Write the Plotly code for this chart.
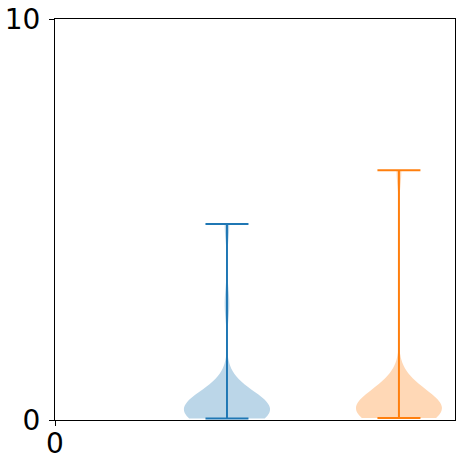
import numpy as np
import plotly.graph_objects as go

# sample values
positions = [1, 2]
blue_vals = [0.04, 0.06, 0.08, 0.1, 0.12, 0.14, 0.16, 0.18, 0.2, 0.22, 0.24, 0.26,
             0.29, 0.32, 0.35, 0.39, 0.44, 0.5, 0.58, 0.7, 0.85, 2.9, 4.89]
orange_vals = [0.05, 0.07, 0.09, 0.11, 0.13, 0.15, 0.17, 0.19, 0.21, 0.24, 0.27,
               0.3, 0.33, 0.37, 0.41, 0.46, 0.52, 0.6, 0.7, 0.82, 0.95, 6.23]
bandwidths = [0.4, 0.4]
colors = ["#1f77b4", "#ff7f0e"]
fills = ["rgba(31,119,180,0.3)", "rgba(255,127,14,0.3)"]

fig = go.Figure()
for pos, vals, bw, col, fill in zip(positions, [blue_vals, orange_vals], bandwidths,
                                    colors, fills):
    arr = np.array(vals)
    fig.add_trace(go.Violin(
        x0=pos, y=vals, width=0.5, scalemode="width", spanmode="hard",
        bandwidth=bw, fillcolor=fill, line=dict(color="rgba(0,0,0,0)", width=0),
        points=False, box_visible=False, meanline_visible=False,
        hoverinfo="skip", showlegend=False, orientation="v",
    ))
    lo, hi = arr.min(), arr.max()
    # extrema caps and the vertical bar
    fig.add_trace(go.Scatter(
        x=[pos - 0.125, pos + 0.125, None, pos - 0.125, pos + 0.125, None, pos, pos],
        y=[lo, lo, None, hi, hi, None, lo, hi],
        mode="lines", line=dict(color=col, width=2), showlegend=False,
        hoverinfo="skip", cliponaxis=False,
    ))

axis_style = dict(showline=True, mirror=True, linecolor="black", linewidth=1,
                  showgrid=False, zeroline=False, ticks="outside", ticklen=5,
                  tickwidth=1, tickcolor="black", automargin=False)
fig.update_layout(
    width=465, height=468,
    margin=dict(l=55, r=10, t=19, b=48),
    plot_bgcolor="white", paper_bgcolor="white",
    violinmode="overlay",
    font=dict(family="DejaVu Sans", size=28, color="black"),
    xaxis=dict(range=[0, 2.326], tickvals=[0], ticktext=["0"],
               ticklabelstandoff=-7, **axis_style),
    yaxis=dict(range=[0, 10], tickvals=[0, 10], ticktext=["0", "10"],
               ticklabelstandoff=3, **axis_style),
)

# drop the default 8px page margin so the figure sits at the window corner
fig.write_html("out.html", config={"displayModeBar": False},
               post_script="document.body.style.margin='0';")
